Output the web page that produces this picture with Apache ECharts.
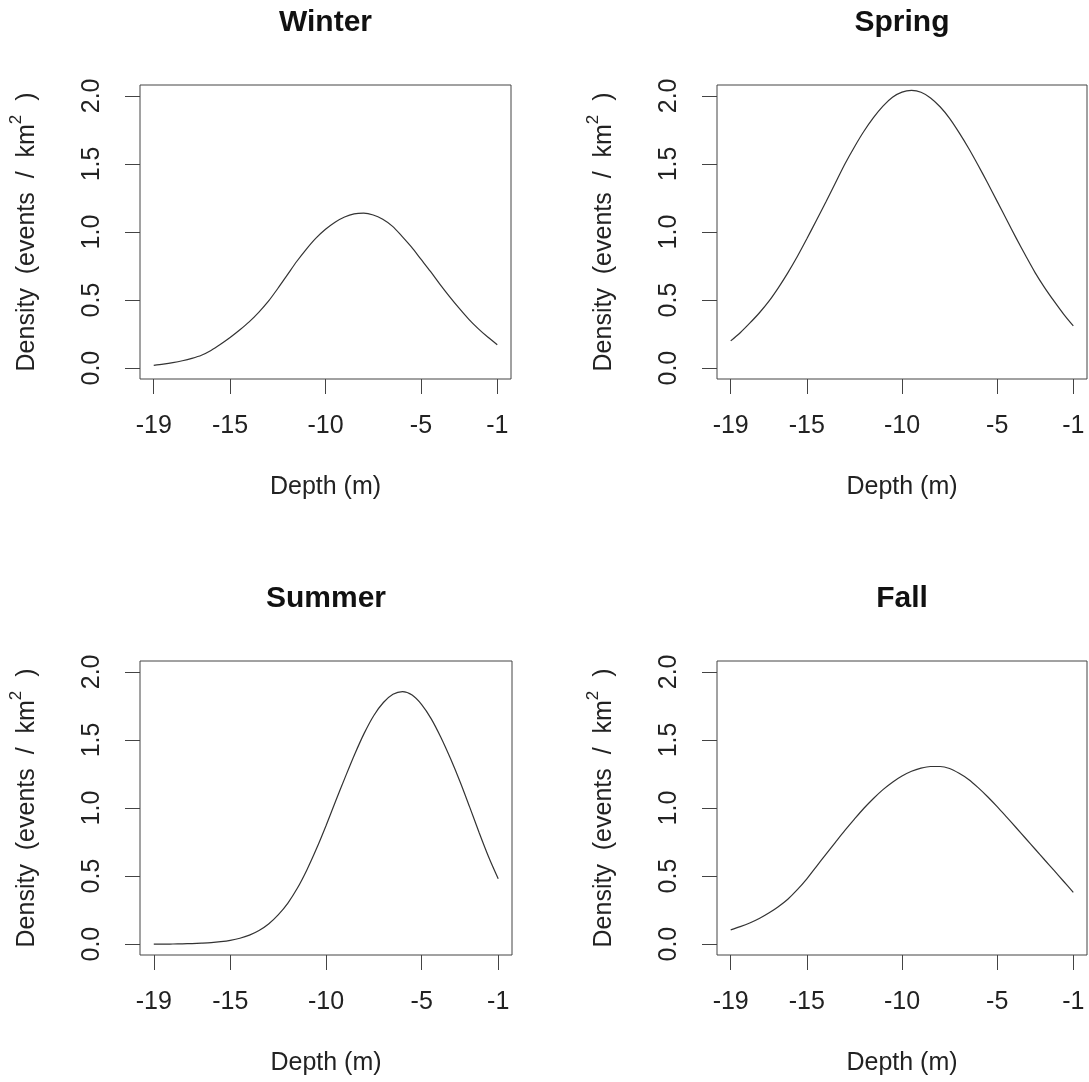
<!DOCTYPE html>
<html>
<head>
<meta charset="utf-8">
<title>Seasonal depth density</title>
<script src="https://cdn.jsdelivr.net/npm/echarts@6/dist/echarts.min.js"></script>
<style>
  html, body { margin: 0; padding: 0; background: #fff; }
  #chart { width: 1089px; height: 1082px; }
</style>
</head>
<body>
<div id="chart"></div>
<script>
// depth grid (m), half-metre steps, and density (events / km^2)
const depth = [-19, -18.5, -18, -17.5, -17, -16.5, -16, -15.5, -15, -14.5, -14, -13.5, -13, -12.5, -12, -11.5, -11, -10.5,
  -10, -9.5, -9, -8.5, -8, -7.5, -7, -6.5, -6, -5.5, -5, -4.5, -4, -3.5, -3, -2.5, -2, -1.5, -1];

const winter = [0.020, 0.029, 0.040, 0.054, 0.072, 0.095, 0.13, 0.175, 0.225, 0.28, 0.34, 0.41, 0.49, 0.585, 0.685, 0.785, 0.875, 0.955,
  1.02, 1.072, 1.11, 1.133, 1.138, 1.125, 1.093, 1.043, 0.97, 0.89, 0.80, 0.71, 0.615, 0.525, 0.44, 0.36, 0.29, 0.228, 0.172];
const spring = [0.20, 0.26, 0.33, 0.405, 0.49, 0.59, 0.70, 0.82, 0.95, 1.085, 1.22, 1.36, 1.50, 1.625, 1.74, 1.84, 1.925, 1.99,
  2.028, 2.04, 2.027, 1.985, 1.92, 1.835, 1.73, 1.615, 1.49, 1.36, 1.225, 1.09, 0.955, 0.825, 0.70, 0.59, 0.49, 0.395, 0.31];
const summer = [0.0, 0.0, 0.001, 0.002, 0.004, 0.007, 0.011, 0.018, 0.028, 0.043, 0.066, 0.10, 0.148, 0.215, 0.30, 0.41, 0.545, 0.70,
  0.87, 1.05, 1.225, 1.395, 1.55, 1.68, 1.775, 1.835, 1.855, 1.83, 1.76, 1.655, 1.52, 1.365, 1.195, 1.01, 0.82, 0.64, 0.48];
const fall = [0.105, 0.128, 0.155, 0.188, 0.228, 0.275, 0.33, 0.40, 0.48, 0.57, 0.66, 0.748, 0.835, 0.918, 0.998, 1.07, 1.135, 1.19,
  1.235, 1.27, 1.293, 1.305, 1.305, 1.29, 1.255, 1.21, 1.15, 1.083, 1.01, 0.933, 0.855, 0.776, 0.697, 0.618, 0.54, 0.46, 0.38];

const seasons = ['Winter', 'Spring', 'Summer', 'Fall'];
const seriesValues = [winter, spring, summer, fall];
const xTicks = [-19, -15, -10, -5, -1];
const yTicks = [0, 0.5, 1, 1.5, 2];

const INK = '#222';
const FONT = '"Liberation Sans", Arial, sans-serif';

// plot boxes in pixels
const boxes = [
  { left: 140, top: 85, width: 371, height: 294 },
  { left: 717, top: 85, width: 370, height: 294 },
  { left: 140, top: 661, width: 372, height: 294 },
  { left: 717, top: 661, width: 370, height: 294 },
];

const chart = echarts.init(document.getElementById('chart'), null, { renderer: 'canvas' });

const option = {
  backgroundColor: '#fff',
  animation: false,
  textStyle: { fontFamily: FONT },
  title: boxes.map((b, i) => ({
    text: seasons[i],
    left: b.left + b.width / 2,
    top: b.top - 77,
    padding: 0,
    textAlign: 'center',
    textStyle: { fontFamily: FONT, fontSize: 30, fontWeight: 'bold', color: '#111' },
  })),
  grid: boxes.map((b) => ({
    left: b.left,
    top: b.top,
    width: b.width,
    height: b.height,
    show: true,
    borderColor: '#444',
    borderWidth: 1,
    backgroundColor: 'transparent',
  })),
  xAxis: boxes.map((b, i) => ({
    type: 'value',
    gridIndex: i,
    min: -19.72,
    max: -0.28,
    name: 'Depth (m)',
    nameLocation: 'middle',
    nameGap: 96,
    nameTextStyle: { fontFamily: FONT, fontSize: 25, color: INK },
    axisLine: { show: false, onZero: false },
    splitLine: { show: false },
    axisTick: {
      show: true,
      length: 15,
      customValues: xTicks,
      lineStyle: { color: '#444', width: 1 },
    },
    axisLabel: {
      customValues: xTicks,
      margin: 35,
      fontFamily: FONT,
      fontSize: 25,
      color: INK,
      formatter: (v) => String(v),
    },
  })),
  yAxis: boxes.map((b, i) => ({
    type: 'value',
    gridIndex: i,
    min: -0.08,
    max: 2.08,
    name: '{t|Density  (events  /  km}{s|2}{t|  )}',
    nameLocation: 'middle',
    nameGap: 100,
    nameTextStyle: {
      fontFamily: FONT,
      color: INK,
      rich: {
        t: { fontFamily: FONT, fontSize: 25, color: INK, lineHeight: 32, verticalAlign: 'bottom' },
        s: { fontFamily: FONT, fontSize: 17, color: INK, lineHeight: 17, verticalAlign: 'top' },
      },
    },
    axisLine: { show: false, onZero: false },
    splitLine: { show: false },
    axisTick: {
      show: true,
      length: 15,
      customValues: yTicks,
      lineStyle: { color: '#444', width: 1 },
    },
    axisLabel: {
      customValues: yTicks,
      rotate: 90,
      margin: 35,
      fontFamily: FONT,
      fontSize: 25,
      color: INK,
      formatter: (v) => Number(v).toFixed(1),
    },
  })),
  series: seriesValues.map((vals, i) => ({
    name: seasons[i],
    type: 'line',
    xAxisIndex: i,
    yAxisIndex: i,
    data: depth.map((d, k) => [d, vals[k]]),
    smooth: 0.3,
    showSymbol: false,
    lineStyle: { color: '#333', width: 1.2 },
  })),
};

chart.setOption(option);
</script>
</body>
</html>
